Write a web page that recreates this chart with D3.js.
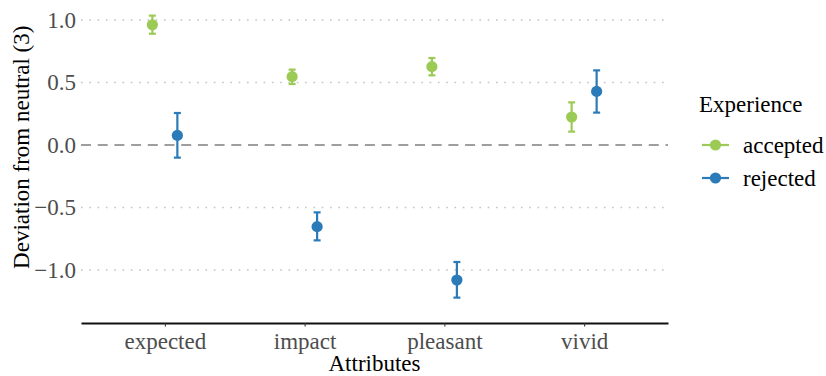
<!DOCTYPE html>
<html><head><meta charset="utf-8">
<script src="https://cdn.jsdelivr.net/npm/d3@7"></script>
<style>body{margin:0;background:#fff}svg{display:block}</style>
</head><body><svg id="c" width="826" height="376"></svg>
<script>
const categories = ["expected","impact","pleasant","vivid"];
const groups = ["accepted","rejected"];
const colors = ["#9ccb55","#2b7bb9"];
const accMean = [0.962, 0.547, 0.627, 0.224];
const accLow  = [0.890, 0.488, 0.557, 0.107];
const accHigh = [1.035, 0.603, 0.696, 0.341];
const rejMean = [0.077, -0.653, -1.080, 0.429];
const rejLow  = [-0.101, -0.763, -1.221, 0.259];
const rejHigh = [0.256, -0.539, -0.936, 0.597];
const yTicks = [1.0, 0.5, 0.0, -0.5, -1.0];

const data = [];
categories.forEach((c,i)=>{
  data.push({cat:c, g:"accepted", m:accMean[i], lo:accLow[i], hi:accHigh[i]});
  data.push({cat:c, g:"rejected", m:rejMean[i], lo:rejLow[i], hi:rejHigh[i]});
});

const svg = d3.select("#c");
const L = 81, R = 668, B = 323, T = 5.5;
const x = d3.scalePoint().domain(categories).range([L, R]).padding(0.6);
const dodge = d3.scalePoint().domain(groups).range([-12.5, 12.5]);
const y = d3.scaleLinear().domain([-1.424, 1.116]).range([B, T]);
const col = d3.scaleOrdinal().domain(groups).range(colors);
const serif = "'Liberation Serif','Times New Roman',serif";

// grid
svg.append("g").selectAll("line").data(yTicks.filter(d=>d!==0)).join("line")
  .attr("x1", L).attr("x2", R).attr("y1", d=>y(d)).attr("y2", d=>y(d))
  .attr("stroke", "#c4c4c4").attr("stroke-width", 1.6)
  .attr("stroke-dasharray", "1.6,6.7").attr("stroke-linecap","butt");
svg.append("line").attr("x1", L).attr("x2", R).attr("y1", y(0)).attr("y2", y(0))
  .attr("stroke", "#7f7f7f").attr("stroke-width", 1.6).attr("stroke-dasharray", "10,6.7");

// y axis labels
const ya = svg.append("g").attr("transform", `translate(${L},0)`)
  .call(d3.axisLeft(y).tickValues(yTicks).tickFormat(d3.format(".1f")).tickSize(0).tickPadding(5));
ya.attr("font-family", serif);
ya.select(".domain").remove();
ya.selectAll("text").attr("font-family", serif).attr("font-size", 23).attr("fill", "#4d4d4d");

// x axis
const xa = svg.append("g").attr("transform", `translate(0,${B})`)
  .call(d3.axisBottom(x).tickSize(3.5).tickPadding(6).tickSizeOuter(0));
xa.attr("font-family", serif);
xa.select(".domain").attr("stroke", "#111").attr("stroke-width", 2.2);
xa.selectAll(".tick line").attr("stroke", "#333").attr("stroke-width", 1.1);
xa.selectAll("text").attr("font-family", serif).attr("font-size", 23).attr("fill", "#4d4d4d");

// error bars and points
const gp = svg.append("g");
const cx = d => x(d.cat) + dodge(d.g);
gp.selectAll("line.v").data(data).join("line").attr("class","v")
  .attr("x1", cx).attr("x2", cx).attr("y1", d=>y(d.lo)).attr("y2", d=>y(d.hi))
  .attr("stroke", d=>col(d.g)).attr("stroke-width", 2.2);
["lo","hi"].forEach(k=>{
  gp.selectAll("line."+k).data(data).join("line").attr("class",k)
    .attr("x1", d=>cx(d)-3.5).attr("x2", d=>cx(d)+3.5).attr("y1", d=>y(d[k])).attr("y2", d=>y(d[k]))
    .attr("stroke", d=>col(d.g)).attr("stroke-width", 2.2);
});
gp.selectAll("circle").data(data).join("circle")
  .attr("cx", cx).attr("cy", d=>y(d.m)).attr("r", 5.6).attr("fill", d=>col(d.g));

// titles
svg.append("text").attr("x", (L+R)/2).attr("y", 371).attr("text-anchor","middle")
  .attr("font-family", serif).attr("font-size", 23).attr("fill","#000").text("Attributes");
svg.append("text").attr("transform", `translate(29,${(B+T)/2 - 17}) rotate(-90)`).attr("text-anchor","middle")
  .attr("font-family", serif).attr("font-size", 23).attr("fill","#000").text("Deviation from neutral (3)");

// legend
const lg = svg.append("g");
lg.append("text").attr("x", 699).attr("y", 112).attr("font-family", serif).attr("font-size", 23)
  .attr("fill","#000").text("Experience");
groups.forEach((g,i)=>{
  const yy = 145 + i*33;
  lg.append("line").attr("x1", 702).attr("x2", 729).attr("y1", yy).attr("y2", yy)
    .attr("stroke", col(g)).attr("stroke-width", 2.2);
  lg.append("circle").attr("cx", 715.5).attr("cy", yy).attr("r", 5.6).attr("fill", col(g));
  lg.append("text").attr("x", 743).attr("y", yy).attr("dy","0.35em").attr("font-family", serif)
    .attr("font-size", 23).attr("fill","#000").text(g);
});
</script></body></html>
